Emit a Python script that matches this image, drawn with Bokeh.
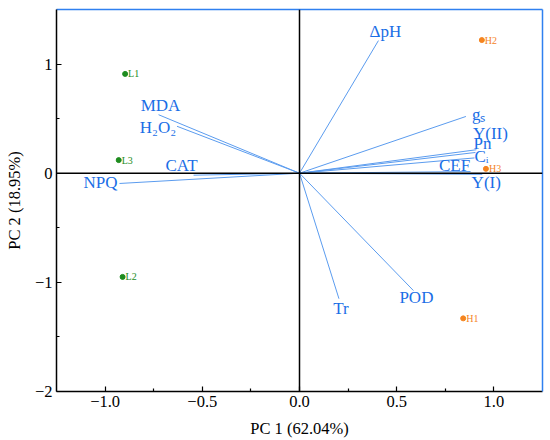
from bokeh.plotting import figure
from bokeh.models import ColumnDataSource, LinearAxis, FixedTicker, Span, Range1d
from bokeh.embed import file_html
from bokeh.resources import INLINE
from bokeh.core.properties import value

# ---- data ----
var_names = ["ΔpH", "gₛ", "Y(II)", "Pn", "Cᵢ", "CEF", "Y(I)",
             "MDA", "H₂O₂", "CAT", "NPQ", "Tr", "POD"]
pc1_load = [0.406, 0.856, 0.91, 0.905, 0.90, 0.88, 0.94,
            -0.725, -0.63, -0.545, -0.926, 0.203, 0.586]
pc2_load = [1.215, 0.52, 0.215, 0.19, 0.14, 0.015, -0.01,
            0.536, 0.43, -0.018, -0.094, -1.15, -1.075]

sample_names = ["L1", "L2", "L3", "H1", "H2", "H3"]
pc1_score = [-0.897, -0.91, -0.93, 0.842, 0.938, 0.959]
pc2_score = [0.91, -0.95, 0.12, -1.33, 1.22, 0.04]
sample_group = ["L", "L", "L", "H", "H", "H"]

x_ticks = [-1.0, -0.5, 0.0, 0.5, 1.0]
x_tick_labels = ["−1.0", "−0.5", "0.0", "0.5", "1.0"]
y_ticks = [-2.0, -1.0, 0.0, 1.0]
y_tick_labels = ["−2", "−1", "0", "1"]

x_title = "PC 1 (62.04%)"
y_title = "PC 2 (18.95%)"

# ---- styles ----
label_dx = [7, 6, 14, 7, 7, -16, 4, 2, -19, -12, -19, 2, 3]
label_dy = [-9, -2, -16, -9, -1, -6, 8, -9, 1, -10, -1, 10, 7]
label_align = ["center", "left", "center", "center", "center", "center", "center",
               "center", "center", "center", "center", "center", "center"]
group_colors = {"L": "#1e8c1e", "H": "#f5841f"}

SERIF = "Liberation Serif"
LINE_BLUE = "#5b9cef"
TEXT_BLUE = "#1a6ee6"
BORDER_BLUE = "#2f80f0"

p = figure(width=550, height=440, output_backend="svg", toolbar_location=None,
           x_range=Range1d(-1.25, 1.25), y_range=Range1d(-2.0, 1.5),
           min_border_left=56, min_border_right=8, min_border_top=9,
           min_border_bottom=49)
p.outline_line_color = None
p.xgrid.visible = False
p.ygrid.visible = False
p.background_fill_color = "white"

# zero lines
p.add_layout(Span(location=0, dimension="height", line_color="black", line_width=1.5))
p.add_layout(Span(location=0, dimension="width", line_color="black", line_width=1.5))

# loading vectors
src_load = ColumnDataSource(dict(
    x0=[0.0] * len(var_names), y0=[0.0] * len(var_names),
    x=pc1_load, y=pc2_load, name=var_names,
    dx=label_dx, dy=label_dy, align=label_align))
p.segment(x0="x0", y0="y0", x1="x", y1="y", source=src_load,
          line_color=LINE_BLUE, line_width=1)
p.text(x="x", y="y", text="name", x_offset="dx", y_offset="dy",
       text_align="align", text_baseline="middle", source=src_load,
       text_font=value(SERIF), text_font_size="17px", text_color=TEXT_BLUE)

# sample scores
cols = [group_colors[g] for g in sample_group]
src_s = ColumnDataSource(dict(x=pc1_score, y=pc2_score, name=sample_names, c=cols))
p.scatter(x="x", y="y", source=src_s, size=5, fill_color="c", line_color="c")
p.text(x="x", y="y", text="name", x_offset=3, y_offset=0, source=src_s,
       text_align="left", text_baseline="middle",
       text_font=value(SERIF), text_font_size="10px", text_color="c")

# axes
for ax, ticks, labs, minor in ((p.xaxis[0], x_ticks, x_tick_labels, [-0.75, -0.25, 0.25, 0.75]),
                               (p.yaxis[0], y_ticks, y_tick_labels, [-1.5, -0.5, 0.5])):
    ax.ticker = FixedTicker(ticks=ticks, minor_ticks=minor)
    ax.major_label_overrides = {t: l for t, l in zip(ticks, labs)}
    ax.axis_line_color = "black"
    ax.axis_line_width = 1.5
    ax.major_tick_in = 5
    ax.major_tick_out = 0
    ax.minor_tick_in = 3
    ax.minor_tick_out = 0
    ax.major_tick_line_width = 1.2
    ax.minor_tick_line_width = 1.2
    ax.major_label_text_font = SERIF
    ax.major_label_text_font_size = "16.5px"
    ax.major_label_text_color = "black"
    ax.axis_label_text_font = SERIF
    ax.axis_label_text_font_size = "16.5px"
    ax.axis_label_text_font_style = "normal"
    ax.axis_label_text_color = "black"
    ax.major_label_standoff = 4

p.xaxis[0].axis_label = x_title
p.yaxis[0].axis_label = y_title
p.xaxis[0].axis_label_standoff = 9
p.yaxis[0].axis_label_standoff = 8

for side in ("above", "right"):
    b = LinearAxis(ticker=FixedTicker(ticks=[]), axis_line_color=BORDER_BLUE,
                   axis_line_width=1.5, major_tick_line_color=None,
                   minor_tick_line_color=None, major_label_text_font_size="0px")
    p.add_layout(b, side)

open("out.html", "w").write(file_html(p, INLINE))
